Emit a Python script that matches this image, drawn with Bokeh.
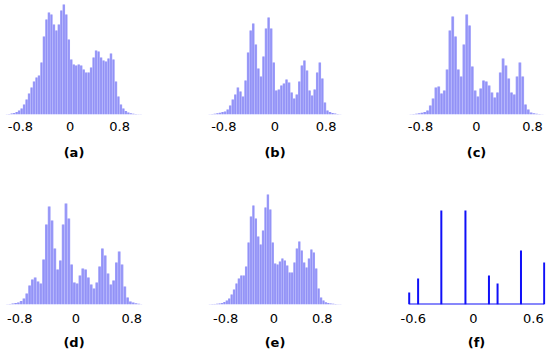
from bokeh.plotting import figure
from bokeh.layouts import gridplot
from bokeh.models import Range1d, FixedTicker
from bokeh.embed import file_html
from bokeh.resources import INLINE

# ---------------- data ----------------
bin_w = 0.04

a_start = -1.04
a_counts = [0.3, 0.5, 1, 1.5, 2.5, 4, 6, 10, 15, 21,
            27, 33, 37, 39, 52, 78, 95, 102, 100, 90,
            84, 90, 104, 110, 100, 75, 55, 50, 49, 50,
            49, 45, 42, 42, 47, 57, 64, 63, 57, 54,
            53, 56, 61, 55, 33, 18, 10, 6, 3.5, 2,
            1.2, 0.8, 0.5, 0.3, 0.2]

b_start = -1.04
b_counts = [0.2, 0.4, 0.8, 1.3, 1.8, 2.5, 3, 5, 9, 15,
            20, 27, 23, 18, 34, 62, 84, 91, 70, 46,
            38, 58, 86, 97, 86, 52, 24, 25, 29, 31,
            35, 32, 22, 16, 20, 33, 49, 54, 44, 24,
            19, 25, 42, 52, 36, 12, 4, 2.5, 1.5, 1,
            0.5, 0.2]

c_start = -1.0
c_counts = [0.1, 0.3, 0.5, 0.8, 1.2, 1.8, 2.5, 4, 9, 16,
            27, 28, 21, 24, 45, 84, 98, 78, 45, 38,
            70, 100, 89, 48, 24, 18, 26, 34, 33, 29,
            22, 17, 22, 42, 56, 49, 36, 22, 20, 38,
            52, 38, 10, 5, 2, 1.2, 0.7, 0.4, 0.2, 0.1]

d_start = -1.0
d_counts = [0.3, 0.6, 1, 1.4, 2, 3.5, 6, 11, 19, 25,
            27, 23, 21, 45, 80, 98, 84, 56, 35, 44,
            80, 101, 86, 40, 22, 21, 29, 36, 35, 27,
            20, 16, 22, 38, 56, 49, 31, 20, 24, 42,
            53, 40, 18, 7, 3, 2, 1.2, 0.7, 0.3]

e_start = -1.08
e_counts = [0.3, 0.4, 0.6, 0.8, 1.1, 1.6, 2.5, 4, 6, 10,
            15, 21, 26, 29, 29, 38, 62, 88, 99, 86,
            68, 60, 74, 97, 110, 95, 62, 41, 40, 43,
            46, 44, 39, 32, 32, 42, 56, 63, 54, 42,
            37, 46, 55, 52, 36, 16, 7, 4, 2.3, 1.6,
            1.1, 0.8, 0.5, 0.3, 0.2]

f_levels = [-0.641, -0.552, -0.320, -0.079, 0.156, 0.242, 0.476, 0.708]
f_counts = [12, 26, 94, 94, 29, 21, 54, 42]

hist_ticks = [-0.8, 0, 0.8]
hist_tick_labels = ["-0.8", "0", "0.8"]
f_ticks = [-0.6, 0, 0.6]
f_tick_labels = ["-0.6", "0", "0.6"]
captions = ["(a)", "(b)", "(c)", "(d)", "(e)", "(f)"]

# ---------------- styling ----------------
FONT = "DejaVu Sans"
FILL = "#a0a0fa"
EDGE = "#7272ee"
SPIKE = "#1010f8"

COL_W = [185, 185, 180]
ROW_H = 177
FRAME_H = 111
ROW_TOP = [3, 16]
Y_MAX = 111
TICK_STANDOFF = [7, 9]
CAP_STANDOFF = [11, 9]


def make_fig(x_rng, row, col, left, right, caption, ticks, labels):
    top = ROW_TOP[row]
    bottom = ROW_H - top - FRAME_H
    p = figure(width=COL_W[col], height=ROW_H, output_backend="svg",
               toolbar_location=None, x_range=Range1d(*x_rng),
               y_range=Range1d(0, Y_MAX),
               min_border_left=left, min_border_right=right,
               min_border_top=top, min_border_bottom=bottom)
    p.outline_line_color = None
    p.background_fill_color = "white"
    p.border_fill_color = "white"
    p.xgrid.visible = False
    p.ygrid.visible = False
    p.yaxis.visible = False
    ax = p.xaxis[0]
    ax.ticker = FixedTicker(ticks=ticks)
    ax.major_label_overrides = {t: l for t, l in zip(ticks, labels)}
    ax.axis_line_color = None
    ax.major_tick_line_color = None
    ax.minor_tick_line_color = None
    ax.major_tick_out = 0
    ax.major_tick_in = 0
    ax.minor_tick_out = 0
    ax.major_label_standoff = TICK_STANDOFF[row]
    ax.major_label_text_font = FONT
    ax.major_label_text_font_size = "13px"
    ax.major_label_text_color = "black"
    ax.axis_label = caption
    ax.axis_label_standoff = CAP_STANDOFF[row]
    ax.axis_label_text_font = FONT
    ax.axis_label_text_font_size = "13px"
    ax.axis_label_text_font_style = "bold"
    ax.axis_label_text_color = "black"
    return p


def add_hist(p, start, counts):
    centers = [start + (i + 0.5) * bin_w for i in range(len(counts))]
    p.vbar(x=centers, width=bin_w, top=counts, bottom=0,
           fill_color=FILL, line_color=None)
    p.segment(x0=centers, y0=[0] * len(counts), x1=centers, y1=counts,
              line_color=EDGE, line_width=0.6, line_alpha=0.55)


pa = make_fig((-1.04, 1.168), 0, 0, 5, 42, captions[0], hist_ticks, hist_tick_labels)
add_hist(pa, a_start, a_counts)
pb = make_fig((-1.055, 1.055), 0, 1, 22, 28, captions[1], hist_ticks, hist_tick_labels)
add_hist(pb, b_start, b_counts)
pc = make_fig((-0.986, 0.986), 0, 2, 37, 5, captions[2], hist_ticks, hist_tick_labels)
add_hist(pc, c_start, c_counts)
pd = make_fig((-1.004, 0.953), 1, 0, 5, 43, captions[3], hist_ticks, hist_tick_labels)
add_hist(pd, d_start, d_counts)
pe = make_fig((-1.10, 1.135), 1, 1, 22, 28, captions[4], hist_ticks, hist_tick_labels)
add_hist(pe, e_start, e_counts)
pf = make_fig((-0.658, 0.721), 1, 2, 36, 5, captions[5], f_ticks, f_tick_labels)
pf.segment(x0=min(f_levels), y0=0, x1=max(f_levels), y1=0,
           line_color=SPIKE, line_width=2)
pf.segment(x0=f_levels, y0=[0] * len(f_levels), x1=f_levels, y1=f_counts,
           line_color=SPIKE, line_width=2)

grid = gridplot([[pa, pb, pc], [pd, pe, pf]], toolbar_location=None)

open("out.html", "w").write(file_html(grid, INLINE))
